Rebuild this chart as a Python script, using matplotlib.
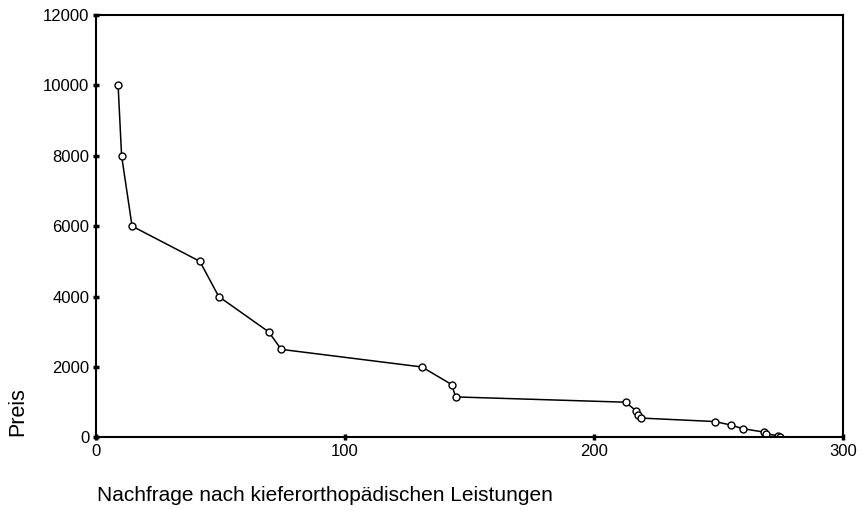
import matplotlib.pyplot as plt

# demand vs price points
nachfrage = [9, 10.4, 14.6, 41.8, 49.4, 69.4, 74.5, 131, 142.9, 144.5,
             212.7, 217, 217.7, 218.8, 248.7, 255, 259.7, 268.3, 269.2,
             273.8, 274.8]
preis = [10000, 8000, 6000, 5000, 4000, 3000, 2500, 2000, 1500, 1150,
         1000, 750, 650, 550, 450, 350, 250, 150, 100, 50, 10]

x_ticks = [0, 100, 200, 300]
y_ticks = [0, 2000, 4000, 6000, 8000, 10000, 12000]

plt.rcParams["font.family"] = ["Liberation Sans", "DejaVu Sans"]

fig = plt.figure(figsize=(8.62, 5.11), dpi=100)
ax = fig.add_axes([0.111, 0.144, 0.867, 0.827])

ax.plot(nachfrage, preis, color="black", lw=1.1, marker="o", ms=5,
        mfc="white", mec="black", mew=1.0)

ax.set_xlim(0, 300)
ax.set_ylim(0, 12000)
ax.set_xticks(x_ticks)
ax.set_yticks(y_ticks)
ax.tick_params(direction="inout", length=5, width=2.5, labelsize=12, pad=2)
for s in ax.spines.values():
    s.set_linewidth(1.5)

fig.text(0.008, 0.147, "Preis", rotation=90, fontsize=15.5, va="bottom", ha="left")
fig.text(0.112, 0.02, "Nachfrage nach kieferorthopädischen Leistungen",
         fontsize=15, va="baseline", ha="left")

fig.savefig("out.png", dpi=100)
